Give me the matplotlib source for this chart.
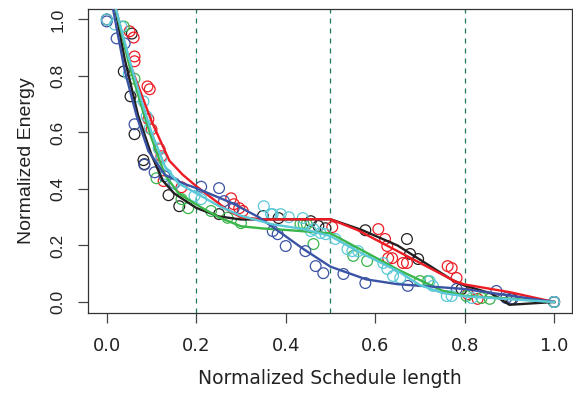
import matplotlib
matplotlib.use("Agg")
import matplotlib.pyplot as plt

plt.rcParams['font.family'] = ['Liberation Sans', 'DejaVu Sans']

# scatter observations (normalized schedule length, normalized energy)
black_x = [0.0, 0.056, 0.038, 0.053, 0.062, 0.082, 0.084, 0.138, 0.162, 0.251, 0.349,
           0.384, 0.456, 0.473, 0.489, 0.578, 0.671, 0.678, 0.696, 0.793, 0.904, 1.0]
black_y = [1.0, 0.95, 0.816, 0.728, 0.594, 0.502, 0.488, 0.378, 0.339, 0.311, 0.304,
           0.297, 0.286, 0.269, 0.261, 0.254, 0.223, 0.170, 0.152, 0.046, 0.011, 0.0]

red_x = [0.051, 0.060, 0.062, 0.062, 0.091, 0.096, 0.093, 0.100, 0.118, 0.122, 0.127,
         0.167, 0.278, 0.284, 0.296, 0.304, 0.504, 0.607, 0.622, 0.627, 0.629, 0.638,
         0.662, 0.671, 0.762, 0.771, 0.782, 0.807, 0.829, 1.0]
red_y = [0.958, 0.936, 0.869, 0.852, 0.763, 0.753, 0.647, 0.611, 0.541, 0.516, 0.428,
         0.406, 0.367, 0.346, 0.332, 0.322, 0.265, 0.258, 0.223, 0.198, 0.155, 0.155,
         0.138, 0.138, 0.127, 0.120, 0.085, 0.028, 0.011, 0.0]

green_x = [0.038, 0.062, 0.111, 0.167, 0.182, 0.233, 0.270, 0.300, 0.433, 0.440, 0.447,
           0.462, 0.551, 0.582, 0.700, 0.718, 0.804, 0.838, 0.856, 1.0]
green_y = [0.975, 0.790, 0.438, 0.364, 0.332, 0.322, 0.298, 0.279, 0.276, 0.276, 0.276,
           0.205, 0.163, 0.145, 0.074, 0.074, 0.021, 0.014, 0.011, 0.0]

blue_x = [0.0, 0.022, 0.040, 0.062, 0.084, 0.107, 0.129, 0.151, 0.211, 0.251, 0.262,
          0.284, 0.371, 0.382, 0.400, 0.444, 0.467, 0.484, 0.529, 0.578, 0.673, 0.782,
          0.871, 0.893, 0.907, 1.0]
blue_y = [0.993, 0.933, 0.915, 0.629, 0.486, 0.459, 0.445, 0.420, 0.408, 0.403, 0.357,
          0.332, 0.251, 0.240, 0.198, 0.180, 0.127, 0.102, 0.099, 0.067, 0.057, 0.046,
          0.039, 0.014, 0.011, 0.0]

cyan_x = [0.0, 0.018, 0.033, 0.049, 0.067, 0.082, 0.089, 0.096, 0.116, 0.122, 0.133,
          0.149, 0.196, 0.211, 0.351, 0.367, 0.371, 0.389, 0.407, 0.438, 0.456, 0.462,
          0.478, 0.489, 0.511, 0.538, 0.549, 0.562, 0.618, 0.627, 0.640, 0.656, 0.722,
          0.729, 0.760, 0.771, 0.816, 1.0]
cyan_y = [1.0, 0.982, 0.975, 0.806, 0.728, 0.710, 0.657, 0.615, 0.544, 0.509, 0.452,
          0.420, 0.375, 0.364, 0.339, 0.311, 0.311, 0.311, 0.300, 0.297, 0.251, 0.258,
          0.244, 0.240, 0.223, 0.187, 0.180, 0.180, 0.138, 0.117, 0.092, 0.085, 0.074,
          0.057, 0.021, 0.021, 0.014, 0.0]

# fitted curves
black_lx = [0.015, 0.04, 0.07, 0.10, 0.125, 0.15, 0.20, 0.25, 0.30, 0.50, 0.57, 0.65,
            0.77, 0.80, 0.86, 0.90, 1.0]
black_ly = [1.07, 0.86, 0.66, 0.52, 0.43, 0.385, 0.333, 0.303, 0.292, 0.293, 0.255,
            0.20, 0.08, 0.058, 0.03, -0.01, 0.0]

red_lx = [0.015, 0.05, 0.10, 0.14, 0.17, 0.20, 0.27, 0.30, 0.35, 0.50, 0.56, 0.65,
          0.78, 0.80, 0.90, 1.0]
red_ly = [1.07, 0.85, 0.64, 0.50, 0.45, 0.41, 0.325, 0.30, 0.292, 0.293, 0.255, 0.18,
          0.072, 0.062, 0.035, 0.0]

green_lx = [0.015, 0.05, 0.08, 0.10, 0.13, 0.16, 0.20, 0.25, 0.30, 0.35, 0.40, 0.50,
            0.58, 0.65, 0.75, 0.80, 0.90, 1.0]
green_ly = [1.07, 0.84, 0.68, 0.58, 0.45, 0.385, 0.345, 0.30, 0.268, 0.26, 0.255,
            0.243, 0.175, 0.115, 0.04, 0.022, 0.012, 0.0]

blue_lx = [0.01, 0.04, 0.067, 0.093, 0.13, 0.17, 0.20, 0.28, 0.34, 0.38, 0.44, 0.50,
           0.58, 0.65, 0.80, 0.86, 1.0]
blue_ly = [1.07, 0.82, 0.657, 0.534, 0.45, 0.42, 0.403, 0.35, 0.30, 0.255, 0.187,
           0.125, 0.08, 0.063, 0.046, 0.032, 0.0]

cyan_lx = [0.015, 0.05, 0.08, 0.10, 0.13, 0.16, 0.20, 0.25, 0.30, 0.37, 0.44, 0.50,
           0.57, 0.65, 0.70, 0.75, 0.80, 0.90, 1.0]
cyan_ly = [1.07, 0.86, 0.70, 0.60, 0.48, 0.42, 0.385, 0.34, 0.305, 0.275, 0.258,
           0.233, 0.172, 0.11, 0.06, 0.032, 0.02, 0.01, 0.0]

cutoffs = [0.2, 0.5, 0.8]
ticks = [0.0, 0.2, 0.4, 0.6, 0.8, 1.0]
tick_labels = ['0.0', '0.2', '0.4', '0.6', '0.8', '1.0']


def main():
    fig = plt.figure(figsize=(5.73, 3.97), dpi=100)
    ax = fig.add_axes([88 / 573, 1 - 313 / 397, 484 / 573, 304 / 397])

    series = [
        (black_x, black_y, black_lx, black_ly, '#231f20'),
        (red_x, red_y, red_lx, red_ly, '#ed1c24'),
        (green_x, green_y, green_lx, green_ly, '#39b54a'),
        (blue_x, blue_y, blue_lx, blue_ly, '#3a53a4'),
        (cyan_x, cyan_y, cyan_lx, cyan_ly, '#5bc8d8'),
    ]
    for px, py, lx, ly, c in series:
        ax.scatter(px, py, s=60, facecolors='none', edgecolors=c, linewidths=0.9,
                   zorder=2)
    for px, py, lx, ly, c in series:
        ax.plot(lx, ly, color=c, lw=1.7, zorder=3)

    for v in cutoffs:
        ax.axvline(v, color='#1f7a50', ls=(0, (4, 4)), lw=0.9, zorder=1)

    ax.set_xlim(-0.042, 1.04)
    ax.set_ylim(-0.039, 1.037)
    ax.set_xticks(ticks)
    ax.set_yticks(ticks)
    ax.set_xticklabels(tick_labels, family='DejaVu Sans', fontsize=13)
    ax.set_yticklabels(tick_labels, rotation=90, va='center', fontsize=12.5)
    ax.tick_params(axis='x', direction='out', length=7, width=0.9, pad=10,
                   colors='#444444', labelcolor='#222222')
    ax.tick_params(axis='y', direction='out', length=7, width=0.9, pad=9,
                   colors='#444444', labelcolor='#222222')
    for sp in ax.spines.values():
        sp.set_linewidth(0.9)
        sp.set_color('#333333')

    ax.set_xlabel('Normalized Schedule length', family='DejaVu Sans', fontsize=13.5,
                  labelpad=10, color='#222222')
    ax.set_ylabel('Normalized Energy', fontsize=14, labelpad=11, color='#222222')

    plt.savefig("out.png", dpi=100)


if __name__ == '__main__':
    main()
